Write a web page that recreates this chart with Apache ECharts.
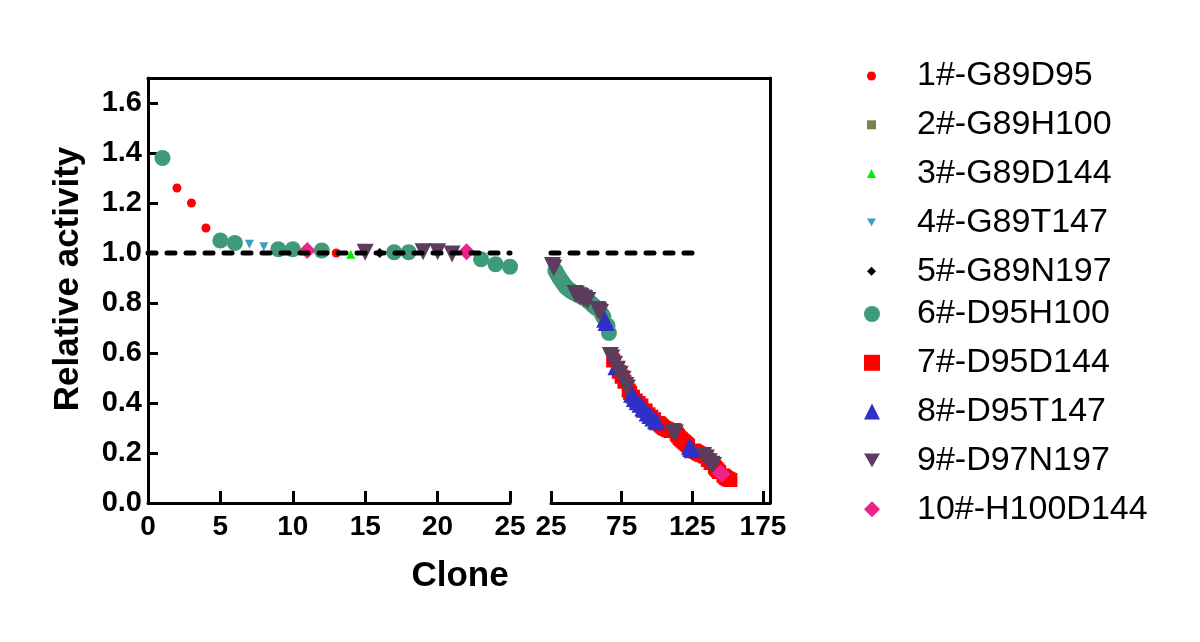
<!DOCTYPE html>
<html lang="en">
<head>
<meta charset="UTF-8">
<title>Relative activity by clone</title>
<script src="https://cdn.jsdelivr.net/npm/echarts@6/dist/echarts.min.js"></script>
<style>
  html, body { margin: 0; padding: 0; background: #fff; }
  #main { width: 1200px; height: 642px; }
</style>
</head>
<body>
<div id="main"></div>
<script>
// legend names and colours
var names = ['1#-G89D95', '2#-G89H100', '3#-G89D144', '4#-G89T147', '5#-G89N197',
             '6#-D95H100', '7#-D95D144', '8#-D95T147', '9#-D97N197', '10#-H100D144'];
var colors = ['#ff0000', '#7f7f4c', '#00ee00', '#3f9fc2', '#000000',
              '#3f9a7a', '#ff0000', '#3030c8', '#5e3c5e', '#f0228a'];

// tick values
var yTicks = [0, 0.2, 0.4, 0.6, 0.8, 1.0, 1.2, 1.4, 1.6];
var xTicksRight = [25, 75, 125, 175];

// [clone, relative activity]  - left panel (0-25)
var s1L = [[2, 1.26], [3, 1.20], [4, 1.10], [13, 1.00]];
var s2L = [];
var s3L = [[14, 0.995]];
var s4L = [[7, 1.035], [8, 1.025]];
var s5L = [[16, 1.0]];
var s6L = [[1, 1.38], [5, 1.05], [6, 1.04], [9, 1.015], [10, 1.015], [12, 1.01],
           [17, 1.003], [18, 1.003], [23, 0.975], [24, 0.955], [25, 0.945]];
var s9L = [[15, 1.003], [19, 1.005], [20, 1.005], [21, 0.996]];
var s10L = [[11, 1.01], [22, 1.005]];

// right panel (25-175)
var s5R = [[79, 0.50]];
var s6R = [[28, 0.93], [29, 0.92], [30, 0.91], [31, 0.90], [32, 0.892], [33, 0.884], [34, 0.876],
           [35, 0.868], [36, 0.862], [37, 0.857], [38, 0.853], [39, 0.849], [40, 0.845], [41, 0.841],
           [44, 0.832], [47, 0.823], [50, 0.814], [52, 0.805], [53, 0.80], [54, 0.795], [55, 0.79],
           [56, 0.785], [57, 0.78], [61, 0.755], [62, 0.745], [65, 0.71], [66, 0.68]];
var s7R = [[69, 0.57], [73, 0.525], [75, 0.505], [77, 0.485], [80, 0.45], [81, 0.44], [83, 0.425],
           [85, 0.41], [87, 0.40], [89, 0.39], [92, 0.37], [94, 0.355], [96, 0.345], [98, 0.335],
           [101, 0.32], [102, 0.315], [103, 0.31], [104, 0.305], [105, 0.30], [106, 0.298],
           [107, 0.295], [108, 0.292], [109, 0.29], [110, 0.288], [114, 0.275], [115, 0.268],
           [116, 0.26], [117, 0.255], [118, 0.25], [119, 0.245], [120, 0.24], [121, 0.235],
           [122, 0.23], [126, 0.21], [127, 0.207], [128, 0.204], [129, 0.20], [130, 0.197],
           [131, 0.194], [132, 0.191], [134, 0.186], [136, 0.172], [138, 0.16], [141, 0.143],
           [142, 0.136], [143, 0.13], [144, 0.124], [147, 0.11], [148, 0.105], [149, 0.10],
           [150, 0.097], [151, 0.094], [152, 0.092]];
var s8R = [[63, 0.735], [64, 0.722], [71, 0.545], [82, 0.435], [84, 0.418], [86, 0.405], [88, 0.395],
           [90, 0.38], [91, 0.375], [93, 0.36], [95, 0.35], [97, 0.34], [99, 0.33], [100, 0.325],
           [123, 0.225], [124, 0.218], [125, 0.213]];
var s9R = [[26, 0.95], [27, 0.94], [42, 0.838], [43, 0.835], [45, 0.829], [46, 0.826], [48, 0.82],
           [49, 0.817], [51, 0.81], [58, 0.774], [59, 0.768], [60, 0.762], [67, 0.59], [68, 0.58],
           [70, 0.555], [72, 0.535], [74, 0.515], [76, 0.495], [78, 0.47], [79, 0.46],
           [111, 0.286], [112, 0.284], [113, 0.28], [133, 0.19], [135, 0.18], [137, 0.165],
           [139, 0.155], [140, 0.15]];
var s10R = [[145, 0.12], [146, 0.115]];

// reference line at 1.0
var refL = [[0, 1], [25, 1]];
var refR = [[25, 1], [127, 1]];

var TRI_DOWN = 'path://M0,0 L10,0 L5,8.66 Z';

var groups = [
    {sym: 'circle', size: 9, left: s1L, right: []},
    {sym: 'rect', size: 9, left: s2L, right: []},
    {sym: 'triangle', size: 9, left: s3L, right: []},
    {sym: TRI_DOWN, size: 9, left: s4L, right: []},
    {sym: 'diamond', size: 10, left: s5L, right: s5R},
    {sym: 'circle', size: 16, left: s6L, right: s6R},
    {sym: 'rect', size: 14, left: [], right: s7R},
    {sym: 'triangle', size: 17, left: [], right: s8R},
    {sym: TRI_DOWN, size: 17, left: s9L, right: s9R},
    {sym: 'diamond', size: 17, left: s10L, right: s10R}
];

var FONT = 'Liberation Sans';
var series = [];
groups.forEach(function (g, i) {
    [g.left, g.right].forEach(function (d, k) {
        series.push({
            name: names[i],
            type: 'scatter',
            xAxisIndex: k,
            yAxisIndex: k,
            symbol: g.sym,
            symbolSize: g.size,
            itemStyle: {color: colors[i], opacity: 1},
            data: d
        });
    });
});
[refL, refR].forEach(function (d, k) {
    series.push({
        type: 'line',
        xAxisIndex: k,
        yAxisIndex: k,
        symbol: 'none',
        silent: true,
        z: 5,
        lineStyle: {color: '#000', width: 5, type: [8, 11], cap: 'round'},
        data: d
    });
});

function yAxisFor(idx, show) {
    return {
        type: 'value', gridIndex: idx, min: 0, max: 1.7, show: show,
        axisLine: {show: true, onZero: false, lineStyle: {color: '#000', width: 3}},
        axisTick: {show: true, inside: true, length: 10, customValues: yTicks,
                   lineStyle: {color: '#000', width: 3}},
        axisLabel: {customValues: yTicks, margin: 6, color: '#000',
                    fontFamily: FONT, fontWeight: 'bold', fontSize: 29,
                    formatter: function (v) { return v.toFixed(1); }},
        splitLine: {show: false}
    };
}

var tickLabel = {color: '#000', fontFamily: FONT, fontWeight: 'bold', fontSize: 28, margin: 10};

var option = {
    backgroundColor: '#fff',
    animation: false,
    grid: [
        {left: 148, top: 78, width: 362, height: 425},
        {left: 551, top: 78, width: 219, height: 425},
        {left: 148, top: 78, width: 622, height: 425}
    ],
    xAxis: [
        {type: 'value', gridIndex: 0, min: 0, max: 25, interval: 5,
         axisLine: {onZero: false, lineStyle: {color: '#000', width: 3}},
         axisTick: {inside: true, length: 12, lineStyle: {color: '#000', width: 3}},
         axisLabel: tickLabel, splitLine: {show: false}},
        {type: 'value', gridIndex: 1, min: 25, max: 180,
         axisLine: {onZero: false, lineStyle: {color: '#000', width: 3}},
         axisTick: {inside: true, length: 12, customValues: xTicksRight,
                    lineStyle: {color: '#000', width: 3}},
         axisLabel: Object.assign({customValues: xTicksRight}, tickLabel),
         splitLine: {show: false}},
        // frame top edge
        {type: 'value', gridIndex: 2, min: 0, max: 1, position: 'top',
         axisLine: {show: true, onZero: false, lineStyle: {color: '#000', width: 3}},
         axisTick: {show: false}, axisLabel: {show: false}, splitLine: {show: false}}
    ],
    yAxis: [
        yAxisFor(0, true),
        yAxisFor(1, false),
        // frame right edge
        {type: 'value', gridIndex: 2, min: 0, max: 1, position: 'right',
         axisLine: {show: true, onZero: false, lineStyle: {color: '#000', width: 3}},
         axisTick: {show: false}, axisLabel: {show: false}, splitLine: {show: false}}
    ],
    legend: [
        {orient: 'vertical', left: 862, top: 54, itemWidth: 9, itemHeight: 9, itemGap: 14.8,
         data: names.slice(0, 5), selectedMode: false,
         textStyle: {color: '#000', fontFamily: FONT, fontSize: 34, lineHeight: 34,
                     padding: [0, 0, 0, 36]}},
        {orient: 'vertical', left: 859, top: 292, itemWidth: 16, itemHeight: 16, itemGap: 14.8,
         data: names.slice(5), selectedMode: false,
         textStyle: {color: '#000', fontFamily: FONT, fontSize: 34, lineHeight: 34,
                     padding: [0, 0, 0, 32]}}
    ],
    graphic: [
        {type: 'text', x: 68, y: 279, rotation: Math.PI / 2,
         style: {text: 'Relative activity', fill: '#000', align: 'center', verticalAlign: 'middle',
                 font: 'bold 35px "Liberation Sans"'}},
        {type: 'text', x: 460, y: 576,
         style: {text: 'Clone', fill: '#000', align: 'center', verticalAlign: 'middle',
                 font: 'bold 35px "Liberation Sans"'}}
    ],
    series: series
};

var chart = echarts.init(document.getElementById('main'));
chart.setOption(option);
</script>
</body>
</html>
